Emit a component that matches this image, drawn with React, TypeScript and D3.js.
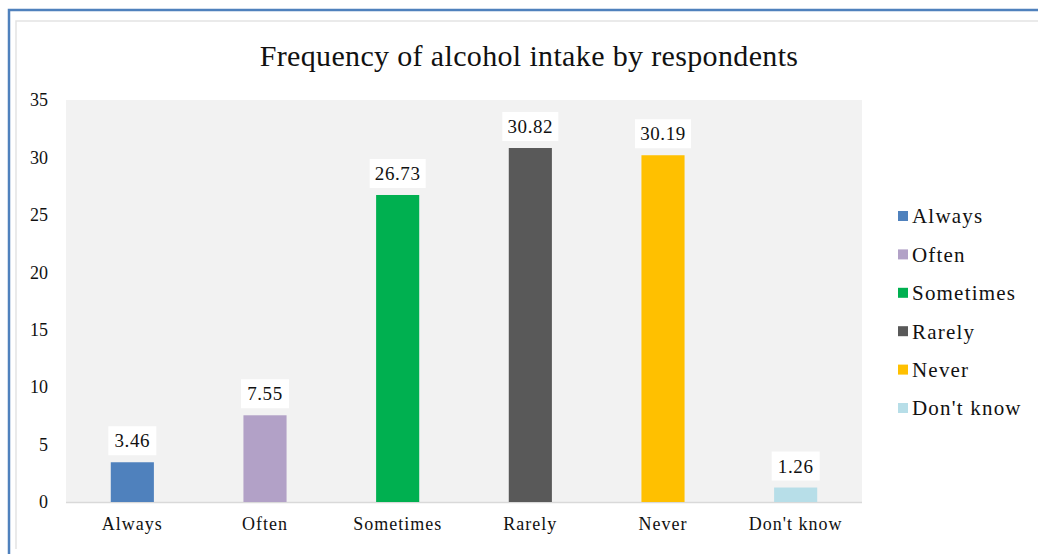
import React from "react";
import * as d3 from "d3";

const categories = ["Always", "Often", "Sometimes", "Rarely", "Never", "Don't know"];
const values = [3.46, 7.55, 26.73, 30.82, 30.19, 1.26];
const colors = ["#4F81BD", "#B2A1C7", "#00B050", "#595959", "#FFC000", "#B7DEE8"];
const yTicks = [0, 5, 10, 15, 20, 25, 30, 35];
const title = "Frequency of alcohol intake by respondents";

const W = 1038;
const H = 554;
const plot = { left: 66, right: 862, top: 100, bottom: 502 };
const font = "'Liberation Serif', 'Times New Roman', serif";

export default function App() {
  const x = d3
    .scaleBand<string>()
    .domain(categories)
    .range([plot.left, plot.right])
    .paddingInner(0.675)
    .paddingOuter(0.3375);
  const y = d3.scaleLinear().domain([0, 35]).range([plot.bottom, plot.top]);

  return (
    <svg
      width={W}
      height={H}
      style={{ position: "absolute", left: 0, top: 0, background: "#fff" }}
      fontFamily={font}
    >
      {/* frames */}
      <path d={`M9,${H + 5} V10 H${W + 5}`} fill="none" stroke="#4F81BD" strokeWidth={2.5} />
      <path d={`M16,549 V21 H${W + 5}`} fill="none" stroke="#E3E3E3" strokeWidth={1.5} />

      <text x={529} y={66} textAnchor="middle" fontSize={30} letterSpacing={0.35} fill="#111">
        {title}
      </text>

      <rect
        x={plot.left}
        y={plot.top}
        width={plot.right - plot.left}
        height={plot.bottom - plot.top}
        fill="#F2F2F2"
      />
      <line x1={plot.left} x2={plot.right} y1={plot.bottom + 0.5} y2={plot.bottom + 0.5} stroke="#D9D9D9" strokeWidth={1.5} />

      {yTicks.map((t) => (
        <text key={t} x={48} y={y(t)} dy="0.35em" textAnchor="end" fontSize={18} fill="#111">
          {t}
        </text>
      ))}

      {categories.map((c, i) => {
        const bx = x(c)!;
        const bw = x.bandwidth();
        const top = y(values[i]);
        const cx = bx + bw / 2;
        const label = values[i].toFixed(2);
        const boxW = 16 + 8 * label.length;
        const boxH = 29;
        return (
          <g key={c}>
            <rect x={bx} y={top} width={bw} height={plot.bottom - top} fill={colors[i]} />
            <rect x={cx - boxW / 2} y={top - 7 - boxH} width={boxW} height={boxH} fill="#fff" />
            <text x={cx} y={top - 7 - boxH / 2} dy="0.35em" textAnchor="middle" fontSize={19} letterSpacing={0.6} fill="#111">
              {label}
            </text>
            <text x={cx} y={524} dy="0.35em" textAnchor="middle" fontSize={18} letterSpacing={1} fill="#111">
              {c}
            </text>
          </g>
        );
      })}

      {categories.map((c, i) => {
        const ly = 216 + i * 38.4;
        return (
          <g key={"lg" + c}>
            <rect x={898} y={ly - 5} width={10} height={10} fill={colors[i]} />
            <text x={912} y={ly} dy="0.35em" fontSize={21} letterSpacing={1.2} fill="#111">
              {c}
            </text>
          </g>
        );
      })}
    </svg>
  );
}
